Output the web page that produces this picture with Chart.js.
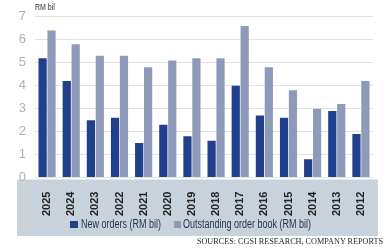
<!DOCTYPE html>
<html>
<head>
<meta charset="utf-8">
<script src="https://cdn.jsdelivr.net/npm/chart.js@4.4.1/dist/chart.umd.min.js"></script>
<style>
html,body{margin:0;padding:0;background:#fff;}
#wrap{position:relative;width:384px;height:252px;overflow:hidden;}
canvas{position:absolute;left:0;top:0;}
#src{position:absolute;right:1px;top:237px;font-family:"Liberation Serif","DejaVu Serif",serif;font-size:8.2px;color:#2a2a2a;white-space:nowrap;}
.lg-box{position:absolute;top:221px;height:7px;}
.lg-txt{position:absolute;top:216px;font-family:"Liberation Sans",Arial,sans-serif;font-size:12px;line-height:16px;color:#1f2f55;white-space:nowrap;transform:scaleX(0.75);transform-origin:0 50%;}
</style>
</head>
<body>
<div id="wrap">
<canvas id="c" width="384" height="252"></canvas>
<div id="legend"></div>
<div id="src">SOURCES: CGSI RESEARCH, COMPANY REPORTS</div>
</div>
<script>
const categories = ["2025","2024","2023","2022","2021","2020","2019","2018","2017","2016","2015","2014","2013","2012"];
const newOrders = [5.2,4.2,2.5,2.6,1.5,2.3,1.8,1.6,4.0,2.7,2.6,0.8,2.9,1.9];
const outstanding = [6.4,5.8,5.3,5.3,4.8,5.1,5.2,5.2,6.6,4.8,3.8,3.0,3.2,4.2];
const yTicks = [0,1,2,3,4,5,6,7];
const seriesNames = ["New orders (RM bil)","Outstanding order book (RM bil)"];
const seriesColors = ["#203f8c","#8f9aba"];
const unitLabel = "RM bil";
const FONT = '"Liberation Sans",Arial,sans-serif';

// HTML legend (condensed text)
const legendLayout = [{box:70,w:8,txt:81},{box:174,w:7,txt:183}];
const lg = document.getElementById('legend');
seriesNames.forEach((n,i)=>{
  const b=document.createElement('div');
  b.className='lg-box';b.style.left=legendLayout[i].box+'px';b.style.width=legendLayout[i].w+'px';b.style.background=seriesColors[i];
  lg.appendChild(b);
  const t=document.createElement('div');
  t.className='lg-txt';t.style.left=legendLayout[i].txt+'px';t.textContent=n;
  lg.appendChild(t);
});

const bandPlugin = {
  id:'band',
  beforeDraw(chart){
    const {ctx, chartArea} = chart;
    ctx.save();
    ctx.fillStyle = '#c8d2da';
    ctx.fillRect(17, chartArea.bottom + 2, 361, 236 - chartArea.bottom - 2);
    ctx.restore();
  },
  afterDraw(chart){
    const {ctx, chartArea} = chart;
    ctx.save();
    ctx.fillStyle = '#333';
    ctx.font = '9px ' + FONT;
    ctx.textBaseline = 'middle';
    ctx.translate(chartArea.left, 8);
    ctx.scale(0.78,1);
    ctx.fillText(unitLabel, 0, 0);
    ctx.restore();
  }
};

new Chart(document.getElementById('c'), {
  type:'bar',
  data:{
    labels:categories,
    datasets:seriesNames.map((n,i)=>({
      label:n, data:i===0?newOrders:outstanding, backgroundColor:seriesColors[i],
      categoryPercentage:0.74, barPercentage:0.92
    }))
  },
  plugins:[bandPlugin],
  options:{
    responsive:false,
    animation:false,
    devicePixelRatio:1,
    layout:{padding:{top:16,right:11,bottom:30,left:0}},
    plugins:{ tooltip:{enabled:false}, legend:{display:false} },
    scales:{
      x:{
        grid:{display:false},
        border:{display:false},
        ticks:{color:'#222',font:{family:FONT,size:11,weight:'bold'},minRotation:90,maxRotation:90,autoSkip:false,padding:6}
      },
      y:{
        min:0,max:7,
        afterFit(s){ s.width = 35; },
        afterBuildTicks(s){ s.ticks = yTicks.map(v=>({value:v})); },
        grid:{color:'#e3e3e3',drawTicks:false},
        border:{display:false},
        ticks:{color:'#b0b0b0',font:{family:FONT,size:13},padding:9}
      }
    }
  }
});
</script>
</body>
</html>
